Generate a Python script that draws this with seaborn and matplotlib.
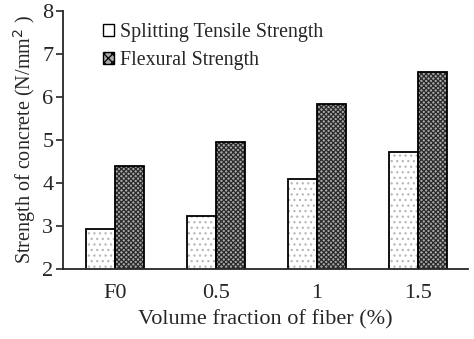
import matplotlib
matplotlib.use("Agg")
import matplotlib.pyplot as plt
import seaborn as sns
import pandas as pd
from matplotlib.patches import Patch

categories = ["F0", "0.5", "1", "1.5"]
splitting = [2.92, 3.23, 4.09, 4.73]
flexural = [4.40, 4.96, 5.84, 6.59]
series_names = ["Splitting Tensile Strength", "Flexural Strength"]
yticks = [2, 3, 4, 5, 6, 7, 8]

df = pd.DataFrame({
    "cat": categories * 2,
    "val": splitting + flexural,
    "series": [series_names[0]] * 4 + [series_names[1]] * 4,
})

sns.set_style("ticks")
plt.rcParams["font.family"] = ["Liberation Serif", "DejaVu Serif"]
plt.rcParams["hatch.linewidth"] = 0.9

fig = plt.figure(figsize=(4.74, 3.39), dpi=100)
ax = fig.add_axes([0.133, 0.2065, 0.854, 0.761])

common = dict(data=df, x="cat", y="val", hue="series", order=categories,
              hue_order=series_names, width=0.575, gap=0, ax=ax,
              legend=False, saturation=1)

# fill layer (hatch colour = edge colour)
sns.barplot(palette=["white", "#b0b0b0"], linewidth=0, **common)
styles = [("white", "...", "#b8b8b8"), ("#a8a8a8", "xxxxxxx", "#2a2a2a")]
for cont, (fc, h, hc) in zip(ax.containers, styles):
    for p in cont:
        p.set_facecolor(fc)
        p.set_hatch(h)
        p.set_edgecolor(hc)
        p.set_linewidth(0)

# outline layer
sns.barplot(fill=False, color="black", linewidth=1.3, **common)
for cont in ax.containers[2:]:
    for p in cont:
        p.set_edgecolor("black")
        p.set_facecolor("none")

ax.set_ylim(2, 8)
ax.set_yticks(yticks)
ax.set_xlim(-0.515, 3.495)
ax.tick_params(axis="x", length=0, labelsize=16, pad=11)
ax.tick_params(axis="y", length=5, labelsize=16, width=1.2, direction="out", pad=2)
ax.set_xlabel("Volume fraction of fiber (%)", fontsize=16, labelpad=5)
ax.set_ylabel("Strength of concrete (N/mm$^2$ )", fontsize=14.5, labelpad=3)
for s in ["top", "right"]:
    ax.spines[s].set_visible(False)
for s in ["left", "bottom"]:
    ax.spines[s].set_linewidth(1.3)

handles = [Patch(facecolor="white", edgecolor="black", linewidth=1),
           Patch(facecolor=styles[1][0], hatch="xxxx", edgecolor="black", linewidth=1)]
ax.legend(handles, series_names, loc="upper left", bbox_to_anchor=(0.08, 0.985),
          frameon=False, fontsize=14.3, handlelength=0.55, handleheight=0.55,
          handletextpad=0.3, labelspacing=0.45, borderaxespad=0)

fig.savefig("out.png", dpi=100)
